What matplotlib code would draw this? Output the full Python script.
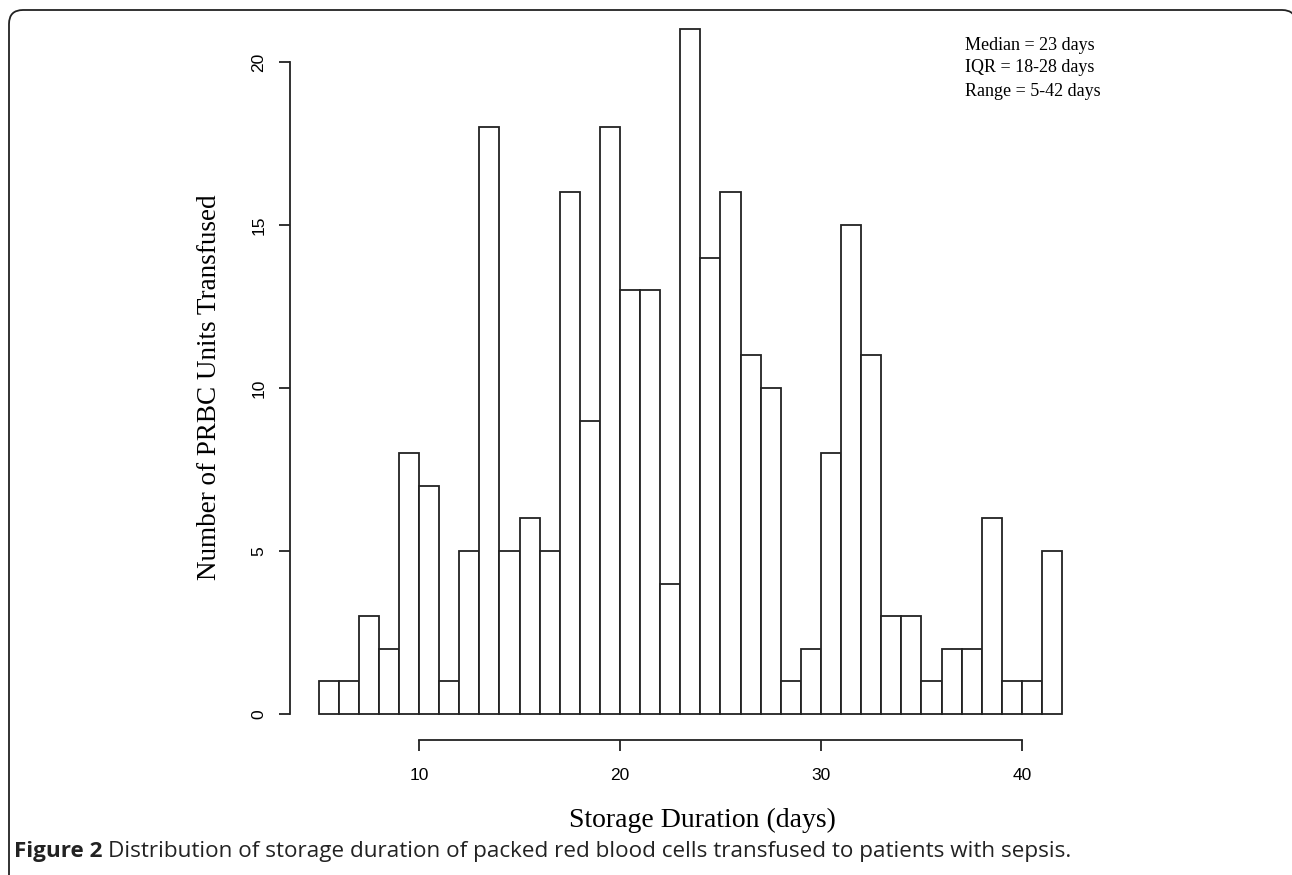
import matplotlib
matplotlib.use("Agg")
import matplotlib.pyplot as plt
from matplotlib.path import Path
from matplotlib.patches import PathPatch
from matplotlib.transforms import Affine2D

# storage duration histogram, 1-day bins from 5 to 42 days
bin_edges = list(range(5, 43))
counts = [1, 1, 3, 2, 8, 7, 1, 5, 18, 5, 6, 5, 16, 9, 18, 13, 13, 4, 21,
          14, 16, 11, 10, 1, 2, 8, 15, 11, 3, 3, 1, 2, 2, 6, 1, 1, 5]
x_ticks = [10, 20, 30, 40]
y_ticks = [0, 5, 10, 15, 20]
stats_lines = ["Median = 23 days", "IQR = 18-28 days", "Range = 5-42 days"]

W, H = 1292, 875
fig = plt.figure(figsize=(W / 100, H / 100), dpi=100)

# axes placed in pixel terms so the R-style offset axes line up
left_px, right_px, top_px, bottom_px = 290, 1080, 20, 740
ax = fig.add_axes([left_px / W, 1 - bottom_px / H,
                   (right_px - left_px) / W, (bottom_px - top_px) / H])

lefts = bin_edges[:-1]
widths = [b - a for a, b in zip(bin_edges[:-1], bin_edges[1:])]
ax.bar(lefts, counts, width=widths, align="edge", color="white",
       edgecolor="#222222", linewidth=1.3)

ax.set_xlim(3.58, 42.89)
ax.set_ylim(-0.80, 21.29)

for s in ["top", "right"]:
    ax.spines[s].set_visible(False)
ax.spines["left"].set_bounds(0, 20)
ax.spines["bottom"].set_bounds(10, 40)
for s in ["left", "bottom"]:
    ax.spines[s].set_linewidth(1.3)
    ax.spines[s].set_color("#222222")

ax.set_xticks(x_ticks)
ax.set_yticks(y_ticks)
ax.set_xticklabels([str(t) for t in x_ticks], family="Liberation Sans", fontsize=12.5)
ax.set_yticklabels([str(t) for t in y_ticks], family="Liberation Sans", fontsize=12.5,
                   rotation=90, va="center")
ax.tick_params(axis="both", length=8, width=1.3, color="#222222")
ax.tick_params(axis="x", pad=12)
ax.tick_params(axis="y", pad=9)

fig.text(569 / W, 1 - 820 / H, "Storage Duration (days)", family="Liberation Serif",
         fontsize=20, ha="left", va="center")
fig.text(210 / W, 1 - 387 / H, "Number of PRBC Units Transfused", family="Liberation Serif",
         fontsize=19.5, rotation=90, ha="center", va="center")

for i, line in enumerate(stats_lines):
    fig.text(965 / W, 1 - (45 + 23 * i) / H, line, family="Liberation Serif",
             fontsize=13, ha="left", va="center")

# caption
cap_y = 1 - 851 / H
t = fig.text(14 / W, cap_y, "Figure 2", family="Open Sans", weight="bold",
             fontsize=16.2, ha="left", va="center", color="#222222")
fig.canvas.draw()
bb = t.get_window_extent()
fig.text((bb.x1 + 5) / W, cap_y,
         "Distribution of storage duration of packed red blood cells transfused to patients with sepsis.",
         family="Open Sans", fontsize=16.2, ha="left", va="center", color="#222222")

# rounded frame, open at the bottom, right side running off the picture
r = 14
x0, x1, y0 = 9, 1296, 10
verts = [(x0, H + 5), (x0, y0 + r), (x0, y0), (x0 + r, y0),
         (x1 - r, y0), (x1, y0), (x1, y0 + r), (x1, H + 5)]
codes = [Path.MOVETO, Path.LINETO, Path.CURVE3, Path.CURVE3,
         Path.LINETO, Path.CURVE3, Path.CURVE3, Path.LINETO]
px_to_fig = Affine2D().scale(1 / W, -1 / H).translate(0, 1) + fig.transFigure
fig.patches.append(PathPatch(Path(verts, codes), transform=px_to_fig, fill=False,
                             edgecolor="#222222", linewidth=1.3))

fig.savefig("out.png", dpi=100)
